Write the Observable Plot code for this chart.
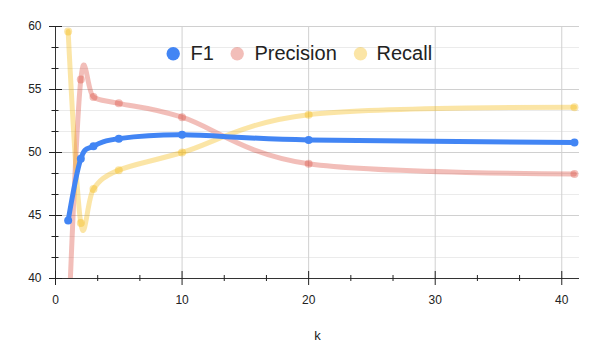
<!DOCTYPE html>
<html><head><meta charset="utf-8">
<script src="https://cdn.jsdelivr.net/npm/d3@7"></script>
<script src="https://cdn.jsdelivr.net/npm/@observablehq/plot@0.6"></script>
<style>body{margin:0;background:#fff;}</style>
</head><body><div id="chart"></div>
<script>
// Data
const kValues = [1, 2, 3, 5, 10, 20, 41];
const f1 = [44.6, 49.5, 50.5, 51.1, 51.4, 51.0, 50.8];
const precision = [35.6, 55.8, 54.4, 53.9, 52.8, 49.1, 48.3];
const recall = [59.6, 44.4, 47.1, 48.6, 50.0, 53.0, 53.6];
const seriesNames = ["F1", "Precision", "Recall"];
const seriesColors = ["#4285F4", "#DB4437", "#F4B400"];
const seriesOpacity = [1, 0.35, 0.35];
const xMajorTicks = [0, 10, 20, 30, 40];
const xMinorTicks = [10/3, 20/3, 40/3, 50/3, 70/3, 80/3, 100/3, 110/3];
const yMajorTicks = [40, 45, 50, 55, 60];
const yMinorTicks = [125/3, 130/3, 140/3, 145/3, 155/3, 160/3, 170/3, 175/3];
const xLabel = "k";

const seriesValues = [f1, precision, recall];
const table = seriesNames.map((name, s) =>
  kValues.map((k, i) => ({k, value: seriesValues[s][i], series: name})));

const drawOrder = [1, 2, 0];
const seriesMarks = drawOrder.flatMap(s => [
  Plot.line(table[s], {x: "k", y: "value", curve: "cardinal", stroke: seriesColors[s],
    strokeOpacity: seriesOpacity[s], strokeWidth: 5, clip: "frame"}),
  Plot.dot(table[s], {x: "k", y: "value", r: 4, fill: seriesColors[s],
    fillOpacity: seriesOpacity[s], clip: "frame"})
]);

const legendDotDx = [117.7, 181.7, 305];
const legendTextDx = [135, 199, 321];
const legendMarks = seriesNames.flatMap((name, s) => [
  Plot.dot([name], {frameAnchor: "top-left", dx: legendDotDx[s], dy: 27.3, r: 6.7,
    fill: seriesColors[s], fillOpacity: seriesOpacity[s]}),
  Plot.text([name], {frameAnchor: "top-left", dx: legendTextDx[s], dy: 27.3, text: d => d,
    textAnchor: "start", lineAnchor: "middle", fontSize: 20, fill: "#222"})
]);

const chart = Plot.plot({
  width: 598,
  height: 346,
  marginLeft: 55,
  marginRight: 19,
  marginTop: 26,
  marginBottom: 68,
  style: {fontFamily: "Arial, 'Liberation Sans', sans-serif", fontSize: "12px", color: "#222", background: "#fff"},
  x: {domain: [0, 41.4]},
  y: {domain: [40, 60]},
  marks: [
    Plot.ruleY(yMinorTicks, {stroke: "#ebebeb"}),
    Plot.ruleY(yMajorTicks.filter(d => d !== 40), {stroke: "#d0d0d0"}),
    Plot.ruleX(xMajorTicks.filter(d => d !== 0), {stroke: "#d0d0d0"}),
    ...seriesMarks,
    Plot.ruleX([0], {stroke: "#333"}),
    Plot.ruleY([40], {stroke: "#333"}),
    Plot.axisY(yMajorTicks, {anchor: "left", tickSize: 13, dx: 7, tickPadding: 8, fontSize: 12, color: "#222", label: null, tickFormat: d => d}),
    Plot.axisY(yMinorTicks, {anchor: "left", tickSize: 7, dx: 3.5, fill: "none", stroke: "#222", label: null}),
    Plot.axisX(xMajorTicks, {anchor: "bottom", tickSize: 14, dy: -7, tickPadding: 10, fontSize: 12, color: "#222", label: null, tickFormat: d => d}),
    Plot.axisX(xMinorTicks, {anchor: "bottom", tickSize: 6, dy: -3, fill: "none", stroke: "#222", label: null}),
    Plot.text([xLabel], {frameAnchor: "bottom", dy: 57, text: d => d, fontSize: 13, fill: "#222", lineAnchor: "middle"}),
    ...legendMarks
  ]
});
document.getElementById("chart").appendChild(chart);
</script>
</body></html>
